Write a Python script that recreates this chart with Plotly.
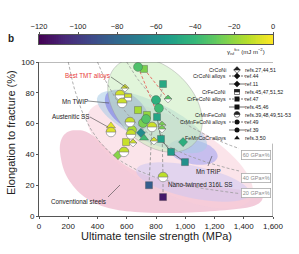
import math
import plotly.graph_objects as go
from plotly.colors import sample_colorscale

# ---------------- data ----------------
# CrMnFeCoNi (half-filled circles), refs.39,48,49,51-53
hc_uts = [554, 568, 622, 629, 581, 492, 773, 848]
hc_el = [78.6, 73.4, 61.0, 53.0, 41.6, 54.5, 57.8, 25.3]
hc_gamma = [-8, -9, -10, -10, -11, -6, -9, -12]

# CrMnFeCoNi alloys (filled circles), ref.49 / ref.39
c_uts = [677, 711, 800, 820, 732, 636]
c_el = [96.8, 60.4, 75.3, 70.0, 63.0, 55.8]
c_gamma = [-34, -25, -44, -38, -33, -16]

# CrFeCoNi alloys (filled squares), ref.47
s47_uts = [718, 677, 738, 595]
s47_el = [95.5, 68.8, 65.6, 48.0]
s47_gamma = [-24, -16, -20, -10]

# CrFeCoNi alloys (filled squares), refs.45,46
s45_uts = [848, 807, 834, 903, 998, 752, 848]
s45_el = [85.7, 64.3, 50.0, 41.6, 35.0, 20.0, 12.3]
s45_gamma = [-48, -50, -52, -55, -60, -84, -112]

# CrCoNi alloys (filled diamonds), ref.44 / ref.11
d_uts = [697, 540, 985]
d_el = [54.0, 39.6, 48.0]
d_gamma = [-62, -22, -45]

# FeMnCoCr alloys (triangles), refs.3,50
t_uts = [718, 492]
t_el = [50.6, 58.5]
t_gamma = [-38, -5]

# CrCoNi (half-filled diamonds), refs.27,44,51
hd_uts = [588, 643, 786, 841, 841, 882]
hd_el = [83.0, 47.4, 48.7, 59.0, 56.5, 76.0]
hd_gamma = [-8, -8, -8, -25, -25, -32]

# CrFeCoNi (half-filled squares), refs.45,47,51,52
hs_uts = [609]
hs_el = [77.0]
hs_gamma = [-8]

# processing paths linking states of one alloy
link_solid_uts = [807, 834, 903, 998]
link_solid_el = [64.3, 50.0, 41.6, 35.0]
link_dash_a_uts = [848, 807]
link_dash_a_el = [85.7, 64.3]
link_dash_b_uts = [752, 773]
link_dash_b_el = [20.0, 57.8]
link_dash_c_uts = [848, 848, 841]
link_dash_c_el = [12.3, 25.3, 56.5]
tmt_a_uts = [677, 841]
tmt_a_el = [96.8, 59.0]
tmt_b_uts = [718, 882]
tmt_b_el = [95.5, 76.0]

# strength-ductility product guide lines (GPa x %)
iso_products = [60, 40, 20]

# ticks
cbar_ticks = [-120, -100, -80, -60, -40, -20, 0]
x_ticks = [0, 200, 400, 600, 800, 1000, 1200, 1400, 1600]
y_ticks = [0, 20, 40, 60, 80, 100]

# legend
legend_names = ["CrCoNi", "CrCoNi alloys", "", "CrFeCoNi", "CrFeCoNi alloys", "",
                "CrMnFeCoNi", "CrMnFeCoNi alloys", "", "FeMnCoCr alloys"]
legend_refs = ["refs.27,44,51", "ref.44", "ref.11", "refs.45,47,51,52", "ref.47",
               "refs.45,46", "refs.39,48,49,51-53", "ref.49", "ref.39", "refs.3,50"]
legend_syms = ["hdiamond", "diamond", "diamond", "hsquare", "square", "square",
               "hcircle", "circle", "circle", "triangle-up"]
legend_lines = [None, "dash", "solid", None, "dash", "solid", None, "dash", "solid", None]

# ---------------- layout geometry ----------------
W, H = 299, 254
ML, MR, MT, MB = 39, 4, 28, 38
PW, PH = W - ML - MR, H - MT - MB
XR_PX, YT_PX, YB_PX = 273, 62, 216
XD = (XR_PX - ML) / PW
YD = (YB_PX - YT_PX) / PH
CB0, CB1 = (YB_PX - 44) / PH, (YB_PX - 35) / PH
X_MAX, Y_MAX = 1600, 100
G_MIN, G_MAX = -120, 0
FONT = "Liberation Sans, Arial, sans-serif"


def gcol(g):
    return sample_colorscale("Viridis", [(g - G_MIN) / (G_MAX - G_MIN)])[0]


def px2data(px, py):
    return ((px - ML) * X_MAX / (XR_PX - ML), (YB_PX - py) * Y_MAX / (YB_PX - YT_PX))


def P(px, py):
    return (px - ML) / PW, (YB_PX - py) / PH


def pstr(pts):
    return "M" + "L".join(f"{x:.2f},{y:.2f}" for x, y in pts) + "Z"


def ellipse_path(cx, cy, a, b, ang):
    t = math.radians(ang)
    pts = []
    for i in range(72):
        u = 2 * math.pi * i / 72
        ex, ey = a * math.cos(u), b * math.sin(u)
        pts.append(px2data(cx + ex * math.cos(t) - ey * math.sin(t),
                           cy + ex * math.sin(t) + ey * math.cos(t)))
    return pstr(pts)


def smooth_path(ctrl, n=8):
    N = len(ctrl)
    out = []
    for i in range(N):
        p0, p1, p2, p3 = ctrl[(i - 1) % N], ctrl[i], ctrl[(i + 1) % N], ctrl[(i + 2) % N]
        for k in range(n):
            t = k / n
            t2, t3 = t * t, t * t * t
            c = []
            for d in range(2):
                c.append(0.5 * (2 * p1[d] + (-p0[d] + p2[d]) * t
                                + (2 * p0[d] - 5 * p1[d] + 4 * p2[d] - p3[d]) * t2
                                + (-p0[d] + 3 * p1[d] - 3 * p2[d] + p3[d]) * t3))
            out.append(px2data(*c))
    return pstr(out)


def half_top(kind, r):
    if kind == "circle":
        pts = [(r * math.cos(math.pi * i / 16), r * math.sin(math.pi * i / 16)) for i in range(17)]
    elif kind == "diamond":
        pts = [(r, 0), (0, r), (-r, 0)]
    else:
        pts = [(r, 0), (r, r), (-r, r), (-r, 0)]
    return pstr(pts)


fig = go.Figure()
shapes = []

# ---------------- shaded regions ----------------
conv_ctrl = [(70, 131), (84, 131), (96, 138), (108, 150), (122, 163), (140, 173), (165, 180),
             (200, 185), (235, 189), (258, 193), (262, 200), (250, 207), (215, 211), (175, 213),
             (135, 212), (105, 207), (82, 195), (66, 175), (60, 152), (62, 138)]
regions = [
    (smooth_path(conv_ctrl), "rgba(234,160,188,0.55)", None),
    (ellipse_path(170, 155, 92, 36, 28), "rgba(248,205,217,0.55)", None),
    (ellipse_path(193, 182, 58, 16, 12), "rgba(205,198,240,0.55)", None),
    (ellipse_path(193, 152, 25, 12, 12), "rgba(165,165,240,0.6)", None),
    (ellipse_path(152, 122, 60, 20, 25), "rgba(165,203,230,0.55)", None),
    (ellipse_path(127, 110, 26, 15, 40), "rgba(115,115,230,0.55)", None),
    (ellipse_path(155, 105, 55, 38, 45), "rgba(200,236,188,0.55)", "rgba(150,150,150,0.8)"),
]
for path, fill, line in regions:
    shapes.append(dict(type="path", xref="x", yref="y", path=path, fillcolor=fill,
                       line=dict(color=line or "rgba(0,0,0,0)", width=0.5 if line else 0),
                       layer="below"))

# ---------------- iso product curves ----------------
iso_x_end = px2data(239, 0)[0]
for p in iso_products:
    x0 = p * 1000 / Y_MAX
    xs = [x0 + (iso_x_end - x0) * i / 80 for i in range(81)]
    fig.add_trace(go.Scatter(x=xs, y=[p * 1000 / x for x in xs], mode="lines",
                             line=dict(color="#9a9a9a", width=0.8, dash="3px,2px"),
                             hoverinfo="skip"))

# ---------------- linking lines ----------------
for xs, ys, col, dash in [
    (link_dash_a_uts, link_dash_a_el, "#8a8a8a", "3px,2px"),
    (link_dash_b_uts, link_dash_b_el, "#8a8a8a", "3px,2px"),
    (link_dash_c_uts, link_dash_c_el, "#8a8a8a", "3px,2px"),
    (tmt_a_uts, tmt_a_el, "#e8504a", "3px,2px"),
    (tmt_b_uts, tmt_b_el, "#e8504a", "3px,2px"),
    (link_solid_uts, link_solid_el, "#555555", "solid"),
]:
    fig.add_trace(go.Scatter(x=xs, y=ys, mode="lines", line=dict(color=col, width=0.8, dash=dash),
                             hoverinfo="skip"))

# ---------------- full markers ----------------
MLINE = dict(color="rgba(70,70,70,0.7)", width=0.5)
for xs, ys, gs, sym, size in [
    (s45_uts, s45_el, s45_gamma, "square", 7),
    (s47_uts, s47_el, s47_gamma, "square", 7),
    (c_uts, c_el, c_gamma, "circle", 9),
    (d_uts, d_el, d_gamma, "diamond", 7),
    (t_uts, t_el, t_gamma, "triangle-up", 8),
]:
    fig.add_trace(go.Scatter(x=xs, y=ys, mode="markers",
                             marker=dict(symbol=sym, size=size, color=gs, colorscale="Viridis",
                                         cmin=G_MIN, cmax=G_MAX, line=MLINE),
                             hoverinfo="skip"))

# ---------------- half-filled markers ----------------
HLINE = dict(color="#777777", width=0.6)
for xs, ys, gs, sym, size, r in [
    (hc_uts, hc_el, hc_gamma, "circle", 9.5, 4.75),
    (hd_uts, hd_el, hd_gamma, "diamond", 6, 3.9),
    (hs_uts, hs_el, hs_gamma, "square", 7, 3.5),
]:
    fig.add_trace(go.Scatter(x=xs, y=ys, mode="markers",
                             marker=dict(symbol=sym, size=size, color="white", line=HLINE),
                             hoverinfo="skip"))
    for x, y, g in zip(xs, ys, gs):
        shapes.append(dict(type="path", xref="x", yref="y", xsizemode="pixel", ysizemode="pixel",
                           xanchor=x, yanchor=y, path=half_top(sym, r), fillcolor=gcol(g),
                           line=HLINE, layer="above"))

# ---------------- legend (pixel sub-plot x2/y2) ----------------
rows = [70, 76, 84, 92, 99, 107, 114.5, 122, 130, 138]
SX = 237
ann = []
LF = dict(size=5.3, color="#222", family=FONT)
for yv, name, ref, sym, ln in zip(rows, legend_names, legend_refs, legend_syms, legend_lines):
    if ln:
        fig.add_trace(go.Scatter(x=[229, 245], y=[yv, yv], xaxis="x2", yaxis="y2", mode="lines",
                                 line=dict(color="#333", width=0.7, dash="2px,1px" if ln == "dash" else "solid"),
                                 hoverinfo="skip"))
    if sym.startswith("h"):
        kind = sym[1:]
        r = {"circle": 2.8, "diamond": 3.2, "square": 2.5}[kind]
        msize = {"circle": 5.6, "diamond": 5, "square": 5}[kind]
        fig.add_trace(go.Scatter(x=[SX], y=[yv], xaxis="x2", yaxis="y2", mode="markers",
                                 marker=dict(symbol=kind, size=msize, color="white",
                                             line=dict(color="#222", width=0.6)),
                                 hoverinfo="skip"))
        shapes.append(dict(type="path", xref="x2", yref="y2", xsizemode="pixel", ysizemode="pixel",
                           xanchor=SX, yanchor=yv, path=half_top(kind, r), fillcolor="#222",
                           line=dict(color="#222", width=0.6), layer="above"))
    else:
        fig.add_trace(go.Scatter(x=[SX], y=[yv], xaxis="x2", yaxis="y2", mode="markers",
                                 marker=dict(symbol=sym, size=5, color="#111", line=dict(width=0)),
                                 hoverinfo="skip"))
    if name:
        ax, ay = P(228, yv)
        ann.append(dict(x=ax, y=ay, xref="paper", yref="paper", text=name, showarrow=False,
                        xanchor="right", yanchor="middle", font=LF))
    ax, ay = P(243, yv)
    ann.append(dict(x=ax, y=ay, xref="paper", yref="paper", text=ref, showarrow=False,
                    xanchor="left", yanchor="middle", font=LF))

# ---------------- colour bar strip ----------------
cbar_vals = list(range(G_MIN, G_MAX + 1))
fig.add_trace(go.Heatmap(x=cbar_vals, y=[0], z=[cbar_vals], colorscale="Viridis", zmin=G_MIN,
                         zmax=G_MAX, showscale=False, xaxis="x3", yaxis="y3", hoverinfo="skip"))

# ---------------- labels ----------------
def label(px, py, text, size=6.3, color="#222", **kw):
    ax, ay = P(px, py)
    d = dict(x=ax, y=ay, xref="paper", yref="paper", text=text, showarrow=False,
             font=dict(size=size, color=color, family=FONT), xanchor="center", yanchor="middle")
    d.update(kw)
    ann.append(d)


label(87, 76, "Best TMT alloys", color="#e8403a")
label(74.5, 101, "Mn TWIP")
label(70, 116, "Austenitic SS")
label(78.5, 201, "Conventional steels")
label(208, 171, "Mn TRIP")
label(200, 184, "Nano-twinned 316L SS")
label(11, 39, "<b>b</b>", size=10)
label(246, 52, "γ<sub>isf</sub><sup>fcc</sup> (mJ m<sup>−2</sup>)", size=6)
label(156, 236, "Ultimate tensile strength (MPa)", size=11)
label(11, 133, "Elongation to fracture (%)", size=11, textangle=-90)
for p, yy in zip(iso_products, [155, 178, 193]):
    label(256, yy, f"{p} GPa×%", size=5.5, color="#8c8c8c", bgcolor="white",
          bordercolor="#aaaaaa", borderwidth=0.8, borderpad=1)

for (x0, y0), (x1, y1) in [((111, 77), (127, 88)), ((88, 101), (109, 103)),
                           ((90, 117), (108, 127)), ((108, 197), (120, 185)),
                           ((208, 166), (212, 156))]:
    a0, b0 = P(x0, y0)
    a1, b1 = P(x1, y1)
    shapes.append(dict(type="line", xref="paper", yref="paper", x0=a0, y0=b0, x1=a1, y1=b1,
                       line=dict(color="#444", width=0.6), layer="above"))

# frame: top spine and lower part of right spine
shapes.append(dict(type="line", xref="x", yref="y", x0=0, x1=X_MAX, y0=Y_MAX, y1=Y_MAX,
                   line=dict(color="#555", width=0.8), layer="above"))
shapes.append(dict(type="line", xref="x", yref="y", x0=X_MAX, x1=X_MAX, y0=0, y1=47,
                   line=dict(color="#555", width=0.8), layer="above"))

AX = dict(showgrid=False, zeroline=False, showline=True, linecolor="#555", linewidth=0.8,
          ticks="outside", ticklen=2, tickwidth=0.8, tickcolor="#555",
          tickfont=dict(size=8, color="#222", family=FONT))
fig.update_layout(
    width=W, height=H,
    margin=dict(l=ML, r=MR, t=MT, b=MB, autoexpand=False),
    paper_bgcolor="white", plot_bgcolor="rgba(0,0,0,0)",
    font=dict(family=FONT, size=8, color="#222"),
    showlegend=False,
    xaxis=dict(domain=[0, XD], range=[0, X_MAX], tickvals=x_ticks, tickformat=",", anchor="y", **AX),
    yaxis=dict(domain=[0, YD], range=[0, Y_MAX], tickvals=y_ticks, anchor="x", **AX),
    xaxis2=dict(domain=[0, 1], range=[ML, W - MR], visible=False, anchor="y2"),
    yaxis2=dict(domain=[0, 1], range=[YB_PX, MT], visible=False, anchor="x2"),
    xaxis3=dict(domain=[0, XD], range=[G_MIN, G_MAX], side="top", anchor="y3", tickvals=cbar_ticks,
                showgrid=False, zeroline=False, showline=True, mirror=True, linecolor="#555",
                linewidth=0.6, ticks="outside", ticklen=2, tickcolor="#555",
                tickfont=dict(size=7.5, color="#222", family=FONT)),
    yaxis3=dict(domain=[CB0, CB1], range=[-0.5, 0.5], anchor="x3", showticklabels=False, ticks="",
                showgrid=False, zeroline=False, showline=True, mirror=True, linecolor="#555",
                linewidth=0.6),
    shapes=shapes,
    annotations=ann,
)
fig.write_html("out.html", config={"displayModeBar": False},
               post_script="document.body.style.margin='0';")
